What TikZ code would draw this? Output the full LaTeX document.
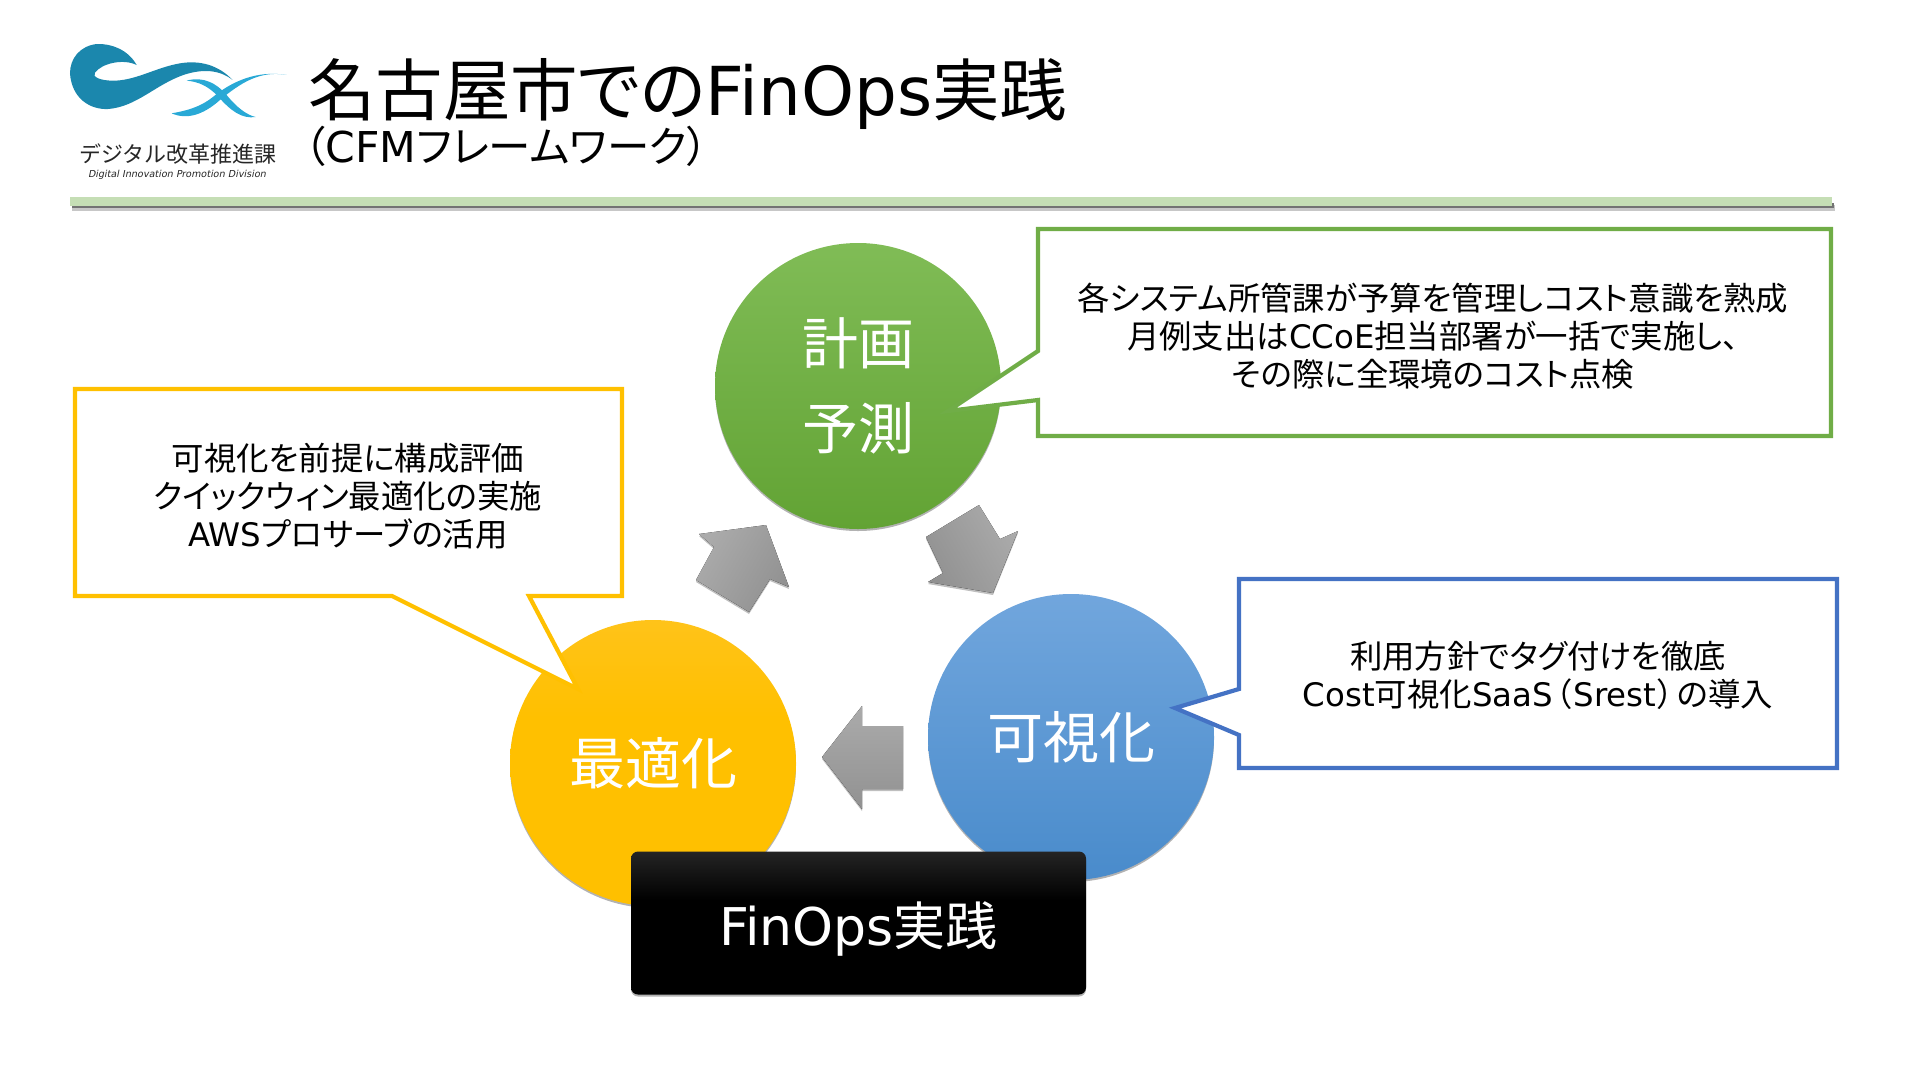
\documentclass[tikz,border=0pt]{standalone}
\usepackage{fontspec}
\setmainfont[RawFeature=+palt]{Noto Sans CJK JP}
\newfontfamily\logofont{Noto Sans CJK JP}
\newfontfamily\lat{DejaVu Sans}
\newfontfamily\logolat[FakeSlant=0.2]{DejaVu Sans}
\usetikzlibrary{shadows}
\definecolor{grnedge}{HTML}{70AD47}
\definecolor{bluedge}{HTML}{4472C4}
\definecolor{yeledge}{HTML}{FFC000}
\definecolor{logodark}{HTML}{1B87AD}
\definecolor{logolight}{HTML}{29A9D6}
\definecolor{rulegreen}{HTML}{C5DEB5}
\definecolor{grntop}{RGB}{128,188,86}
\definecolor{grnbot}{RGB}{98,163,52}
\definecolor{blutop}{RGB}{113,166,221}
\definecolor{blubot}{RGB}{73,139,203}
\definecolor{yeltop}{RGB}{255,199,62}
\definecolor{yelbot}{RGB}{232,172,0}
\pgfdeclareverticalshading{boxshade}{100bp}{color(0bp)=(black); color(58bp)=(black); color(100bp)=(black!65)}
\pgfdeclareverticalshading{yelshade}{100bp}{color(0bp)=(yelbot); color(22bp)=(yeledge); color(58bp)=(yeledge); color(100bp)=(yeltop)}
\tikzset{
  softshadow/.style={drop shadow={opacity=.3,shadow xshift=0pt,shadow yshift=-2pt,fill=black}},
  phase/.style={circle,minimum size=286pt,inner sep=0pt,align=center,text=white,softshadow,
    font=\fontsize{56}{85}\selectfont},
  callout/.style={line width=4.2pt,fill=white,miter limit=30},
  saytext/.style={align=center,text=black,inner sep=0pt,font=\fontsize{32.4}{38}\selectfont},
  turn/.style={top color=black!33,bottom color=black!43,shading angle=#1,draw=none,
    drop shadow={opacity=.25,shadow xshift=0pt,shadow yshift=-2pt,fill=black}},
}
\begin{document}
\begin{tikzpicture}[x=1pt,y=-1pt]
\useasboundingbox (0,0) rectangle (1920,1080);
% logo
\begin{scope}[shift={(40,20)},x=0.3333pt,y=-0.3333pt]
\fill[logodark] (290,135) .. controls (265,90) and (215,70) .. (170,72)
  .. controls (120,78) and (90,115) .. (90,160)
  .. controls (95,235) and (150,270) .. (205,267)
  .. controls (290,260) and (345,195) .. (430,165)
  .. controls (490,145) and (540,150) .. (578,180)
  .. controls (535,135) and (480,120) .. (420,130)
  .. controls (350,142) and (290,180) .. (225,182)
  .. controls (180,183) and (155,170) .. (165,158)
  .. controls (185,130) and (250,115) .. (290,135) -- cycle;
\fill[logolight] (740,165) .. controls (660,150) and (600,190) .. (540,240)
  .. controls (490,285) and (440,300) .. (395,280)
  .. controls (440,272) and (480,262) .. (520,230)
  .. controls (575,185) and (650,150) .. (740,165) -- cycle;
\fill[logolight] (440,182) .. controls (490,168) and (530,190) .. (560,225)
  .. controls (590,262) and (620,285) .. (647,291)
  .. controls (605,298) and (570,270) .. (535,230)
  .. controls (505,198) and (475,185) .. (440,182) -- cycle;
\end{scope}
\node[inner sep=0pt,font=\logofont\fontsize{22}{22}\selectfont,text=black!85] (logoja) at (178,154) {デジタル改革推進課};
\node[inner sep=0pt,font=\logolat\fontsize{9.6}{10}\selectfont,text=black!85] (logoen) at (177,175) {Digital Innovation Promotion Division};
% title
\node[anchor=west,inner sep=0pt,font=\fontsize{67.5}{70}\selectfont] (title) at (308,94) {名古屋市での{\lat FinOps}実践};
\node[anchor=west,inner sep=0pt,font=\fontsize{42.5}{44}\selectfont] (subtitle) at (304,146) {（{\lat CFM}フレームワーク）};
\fill[black!22] (72,205) rectangle (1835,211);
\fill[black!55] (72,203) rectangle (1834,208);
\fill[rulegreen] (70,197) rectangle (1832,206);
% circles
\node[phase,top color=grntop,bottom color=grnbot] (plan) at (858,386) {計画\\予測};
\node[phase,top color=blutop,bottom color=blubot] (vis) at (1071,737) {可視化};
\node[phase,shading=yelshade] (opt) at (653,763) {最適化};
% turning arrows
\fill[turn=60] (699,534) -- (766,525) -- (789,587) -- (770,579) -- (749,612) -- (696,580) -- (714,547) -- cycle;
\fill[turn=-60] (979,505) -- (1000,539) -- (1018,531) -- (993,593) -- (928,582) -- (943,573) -- (926,537) -- cycle;
\fill[turn=0] (822,757) -- (862,706) -- (862,726) -- (903,726) -- (903,789) -- (862,789) -- (862,809) -- cycle;
% black box
\node[minimum width=455pt,minimum height=143pt,rectangle,rounded corners=7pt,shading=boxshade,text=white,inner sep=0pt,
  font=\fontsize{52}{60}\selectfont,softshadow] (finops) at (858.5,923) {\smash{\raisebox{-22pt}{{\lat FinOps}実践}}};
% callouts
\draw[callout,draw=grnedge] (1038,229) -- (1831,229) -- (1831,436) -- (1038,436) -- (1038,400) -- (948,411) -- (1038,351) -- cycle;
\node[saytext] (plantext) at (1433,336) {各システム所管課が予算を管理しコスト意識を熟成\\月例支出は{\lat CCoE}担当部署が一括で実施し、\\その際に全環境のコスト点検};
\draw[callout,draw=bluedge] (1239,579) -- (1837,579) -- (1837,768) -- (1239,768) -- (1239,735) -- (1175,708) -- (1239,689) -- cycle;
\node[saytext] (vistext) at (1538,675) {利用方針でタグ付けを徹底\\{\lat Cost}可視化{\lat SaaS}\hspace{3pt}（\hspace{1.5pt}{\lat Srest}\hspace{1.5pt}）\hspace{3pt}の導入};
\draw[callout,draw=yeledge] (75,389) -- (622,389) -- (622,596) -- (529,596) -- (578,689) -- (392,596) -- (75,596) -- cycle;
\node[saytext] (opttext) at (348,496) {可視化を前提に構成評価\\クイックウィン最適化の実施\\{\lat AWS}プロサーブの活用};
\end{tikzpicture}
\end{document}
